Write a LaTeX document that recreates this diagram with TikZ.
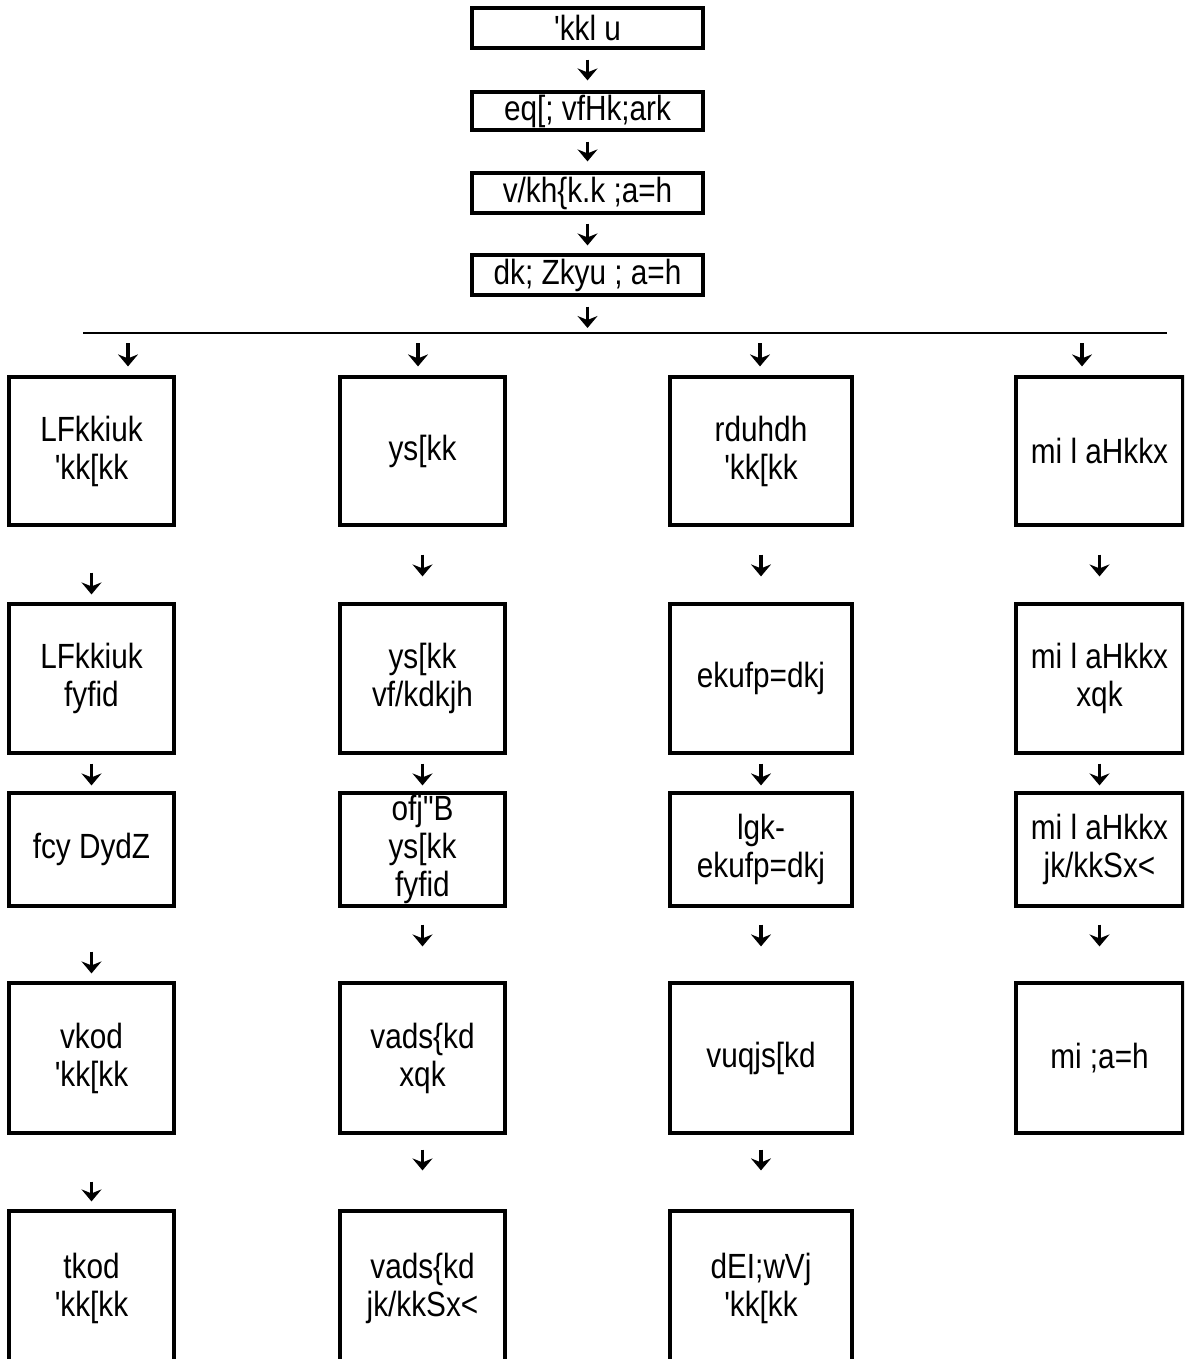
\documentclass[tikz,border=0pt]{standalone}
\usepackage{fontspec}
\setmainfont{Liberation Sans}[Ligatures=TeXOff,FakeStretch=0.85]
\usetikzlibrary{arrows.meta}

\begin{document}
\begin{tikzpicture}[x=1pt,y=-1pt,
  box/.style 2 args={draw, line width=3.2pt, minimum width=#1, minimum height=#2,
    inner sep=0pt, align=center, font=\fontsize{35}{38}\selectfont},
  arr/.style={line width=3.5pt, -{Stealth[length=12pt,width=20pt,inset=4pt]}},
  dn/.style 2 args={arr, shorten <=#1, shorten >=#2}]

\useasboundingbox (0,0) rectangle (1184,1359);
\clip (0,0) rectangle (1184,1359);

\node[box={231}{40}] (b1) at (587.5,28) {'kkl u};
\node[box={231}{38}] (b2) at (587.5,111) {eq[; vfHk;ark};
\node[box={231}{40}] (b3) at (587.5,193) {v/kh\{k.k ;a=h};
\node[box={231}{40}] (b4) at (587.5,275) {dk; Zkyu ; a=h};

\draw[dn={10pt}{10pt}] (b1) -- (b2);
\draw[dn={10pt}{10pt}] (b2) -- (b3);
\draw[dn={9pt}{8pt}] (b3) -- (b4);

\coordinate (top) at (587.5,333);
\coordinate (hl) at (83,333);
\coordinate (hr) at (1167,333);
\draw[dn={10pt}{5pt}] (b4) -- (top);
\draw[line width=1.4pt] (hl) -- (hr);

\node[box={165}{148}] (c1r1) at (91.5,451) {LFkkiuk\\'kk[kk};
\node[box={165}{149}] (c1r2) at (91.5,678.5) {LFkkiuk\\fyfid};
\node[box={165}{113}] (c1r3) at (91.5,849.5) {fcy DydZ};
\node[box={165}{150}] (c1r4) at (91.5,1058) {vkod\\'kk[kk};
\node[box={165}{154}] (c1r5) at (91.5,1288) {tkod\\'kk[kk};

\node[box={165}{148}] (c2r1) at (422.5,451) {ys[kk};
\node[box={165}{149}] (c2r2) at (422.5,678.5) {ys[kk\\vf/kdkjh};
\node[box={165}{113}] (c2r3) at (422.5,849.5) {ofj"B\\ys[kk\\fyfid};
\node[box={165}{150}] (c2r4) at (422.5,1058) {vads\{kd\\xqk};
\node[box={165}{154}] (c2r5) at (422.5,1288) {vads\{kd\\jk/kkSx<};

\node[box={182}{148}] (c3r1) at (761,451) {rduhdh\\'kk[kk};
\node[box={182}{149}] (c3r2) at (761,678.5) {ekufp=dkj};
\node[box={182}{113}] (c3r3) at (761,849.5) {lgk-\\ekufp=dkj};
\node[box={182}{150}] (c3r4) at (761,1058) {vuqjs[kd};
\node[box={182}{154}] (c3r5) at (761,1288) {dEI;wVj\\'kk[kk};

\node[box={167}{148}] (c4r1) at (1099.5,451) {mi l aHkkx};
\node[box={167}{149}] (c4r2) at (1099.5,678.5) {mi l aHkkx\\xqk};
\node[box={167}{113}] (c4r3) at (1099.5,849.5) {mi l aHkkx\\jk/kkSx<};
\node[box={167}{150}] (c4r4) at (1099.5,1058) {mi ;a=h};

\foreach \x/\c [count=\i] in {128/c1r1, 418/c2r1, 760/c3r1, 1082/c4r1} {
  \coordinate (h\i) at (\x,333);
  \draw[dn={10pt}{9pt}] (h\i) -- (h\i |- \c.north);
}

\draw[dn={46pt}{8pt}] (c1r1) -- (c1r2);
\draw[dn={9pt}{6pt}] (c1r2) -- (c1r3);
\draw[dn={44pt}{8pt}] (c1r3) -- (c1r4);
\draw[dn={47pt}{8pt}] (c1r4) -- (c1r5);

\foreach \c in {c2,c3} {
  \draw[dn={28pt}{26pt}] (\c r1) -- (\c r2);
  \draw[dn={9pt}{6pt}] (\c r2) -- (\c r3);
  \draw[dn={17pt}{35pt}] (\c r3) -- (\c r4);
  \draw[dn={15pt}{39pt}] (\c r4) -- (\c r5);
}
\draw[dn={28pt}{26pt}] (c4r1) -- (c4r2);
\draw[dn={9pt}{6pt}] (c4r2) -- (c4r3);
\draw[dn={17pt}{35pt}] (c4r3) -- (c4r4);

\end{tikzpicture}
\end{document}
